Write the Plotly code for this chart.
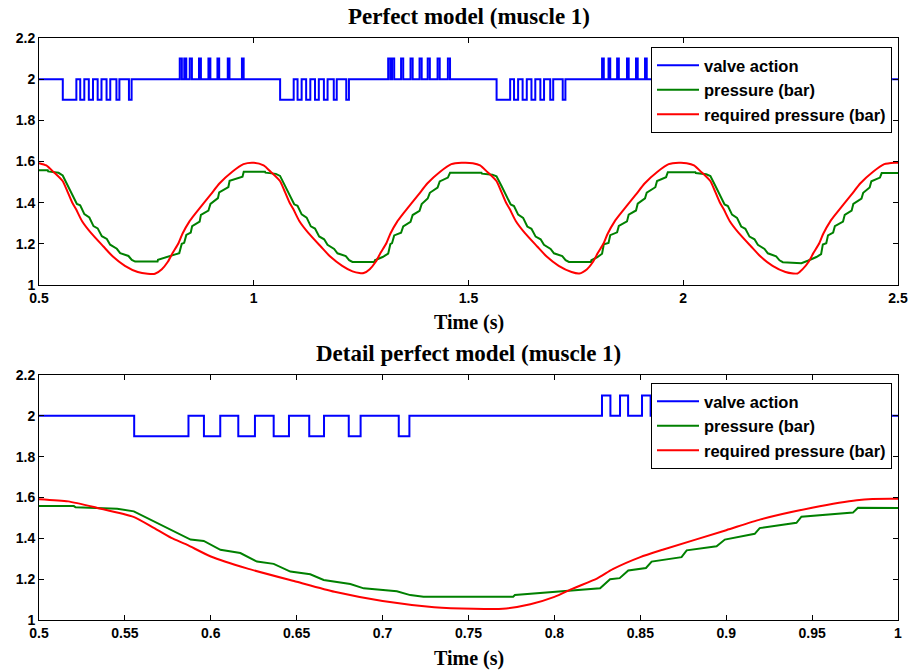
import plotly.graph_objects as go

# ---------------- data ----------------
# valve action: intervals at 1.9 (low) and 2.1 (high); otherwise 2.0
valve_low = [
    [0.5554, 0.587], [0.596, 0.6055], [0.616, 0.6257], [0.6366, 0.6455], [0.6573, 0.6659], [0.6803, 0.6872], [0.7094, 0.7156],
    [1.0614, 1.093], [1.102, 1.1115], [1.122, 1.1317], [1.1426, 1.1515], [1.1633, 1.1719], [1.1863, 1.1932], [1.2154, 1.2216],
    [1.5654, 1.597], [1.606, 1.6155], [1.626, 1.6357], [1.6466, 1.6555], [1.6673, 1.6759], [1.6903, 1.6972], [1.7194, 1.7256],
    [2.0634, 2.095], [2.104, 2.1135], [2.124, 2.1337], [2.1446, 2.1535], [2.1653, 2.1739], [2.1883, 2.1952], [2.2174, 2.2236],
]
valve_high = [
    [0.8277, 0.8326], [0.8382, 0.8429], [0.851, 0.856], [0.8725, 0.877], [0.8945, 0.899], [0.9155, 0.9195], [0.9395, 0.9435], [0.9725, 0.9765],
    [1.313, 1.318], [1.322, 1.327], [1.343, 1.348], [1.365, 1.370], [1.386, 1.391], [1.405, 1.410], [1.428, 1.433], [1.452, 1.457],
    [1.811, 1.815], [1.826, 1.830], [1.846, 1.850], [1.869, 1.873], [1.890, 1.894], [1.911, 1.915], [1.935, 1.939], [1.960, 1.964],
    [2.321, 2.325], [2.333, 2.337], [2.349, 2.353], [2.372, 2.376], [2.392, 2.396], [2.415, 2.419], [2.434, 2.438], [2.458, 2.462],
]
valve_levels = {"neutral": 2.0, "low": 1.9, "high": 2.1}
t_start, t_end = 0.5, 2.5

pressure_t = [
    0.500, 0.5203, 0.5213, 0.5455, 0.5552, 0.5669, 0.5785, 0.5882, 0.5959, 0.6056, 0.6172, 0.6269, 0.6366, 0.6463, 0.6579,
    0.6657, 0.6812, 0.689, 0.7083, 0.7161, 0.7238, 0.776, 0.777, 0.803, 0.8266, 0.8324, 0.838, 0.843, 0.8533, 0.8566,
    0.874, 0.877, 0.8944, 0.8992, 0.9166, 0.9195, 0.9409, 0.9438, 0.9738, 0.9767,
    1.0263, 1.0273, 1.0515, 1.0612, 1.0729, 1.0845, 1.0942, 1.1019, 1.1116, 1.1232, 1.1329, 1.1426, 1.1523, 1.1639, 1.1717,
    1.1872, 1.195, 1.2143, 1.2221, 1.2298,
    1.281, 1.282, 1.300, 1.313, 1.318, 1.322, 1.327, 1.343, 1.348, 1.365, 1.370, 1.386, 1.391, 1.405, 1.410, 1.428, 1.433,
    1.452, 1.457,
    1.5303, 1.5313, 1.5555, 1.5652, 1.5769, 1.5885, 1.5982, 1.6059, 1.6156, 1.6272, 1.6369, 1.6466, 1.6563, 1.6679, 1.6757,
    1.6912, 1.699, 1.7183, 1.7261, 1.7338,
    1.785, 1.786, 1.800, 1.811, 1.815, 1.826, 1.830, 1.846, 1.850, 1.869, 1.873, 1.890, 1.894, 1.911, 1.915, 1.935, 1.939,
    1.960, 1.964,
    2.0283, 2.0293, 2.0535, 2.0632, 2.0749, 2.0865, 2.0962, 2.1039, 2.1136, 2.1252, 2.1349, 2.1446, 2.1543, 2.1659, 2.1737,
    2.1892, 2.197, 2.2163, 2.2241, 2.2318,
    2.262, 2.275, 2.290, 2.310, 2.321, 2.325, 2.333, 2.337, 2.349, 2.353, 2.372, 2.376, 2.392, 2.396, 2.415, 2.419, 2.434,
    2.438, 2.458, 2.462, 2.500,
]
pressure_bar = [
    1.558, 1.558, 1.552, 1.545, 1.532, 1.484, 1.435, 1.394, 1.387, 1.344, 1.328, 1.286, 1.275, 1.237, 1.224,
    1.196, 1.176, 1.155, 1.141, 1.122, 1.114, 1.114, 1.122, 1.138, 1.155, 1.200, 1.205, 1.243, 1.255, 1.286,
    1.308, 1.341, 1.361, 1.394, 1.422, 1.450, 1.476, 1.506, 1.526, 1.550,
    1.550, 1.546, 1.540, 1.530, 1.482, 1.433, 1.392, 1.385, 1.343, 1.327, 1.285, 1.274, 1.236, 1.222, 1.195,
    1.175, 1.154, 1.140, 1.121, 1.112,
    1.112, 1.120, 1.136, 1.152, 1.198, 1.203, 1.241, 1.254, 1.285, 1.307, 1.340, 1.360, 1.393, 1.420, 1.448, 1.473, 1.503,
    1.522, 1.545,
    1.545, 1.541, 1.536, 1.528, 1.481, 1.432, 1.391, 1.384, 1.342, 1.326, 1.284, 1.273, 1.235, 1.222, 1.195,
    1.175, 1.154, 1.140, 1.121, 1.112,
    1.112, 1.120, 1.135, 1.152, 1.198, 1.204, 1.242, 1.256, 1.287, 1.309, 1.342, 1.362, 1.395, 1.421, 1.449, 1.475, 1.505,
    1.524, 1.548,
    1.548, 1.544, 1.538, 1.529, 1.481, 1.432, 1.391, 1.384, 1.342, 1.326, 1.284, 1.273, 1.235, 1.222, 1.195,
    1.175, 1.154, 1.139, 1.120, 1.111,
    1.108, 1.106, 1.118, 1.136, 1.150, 1.197, 1.203, 1.241, 1.255, 1.286, 1.308, 1.341, 1.361, 1.394, 1.420, 1.448, 1.474,
    1.504, 1.522, 1.544, 1.544,
]

required_t = [
    0.500, 0.517, 0.534, 0.555, 0.566, 0.577, 0.586, 0.600, 0.621, 0.650, 0.672, 0.700, 0.730, 0.753, 0.770,
    0.786, 0.800, 0.811, 0.825, 0.834, 0.850, 0.863, 0.900, 0.920, 0.950, 0.976, 1.000,
    1.023, 1.040, 1.061, 1.072, 1.083, 1.092, 1.106, 1.127, 1.156, 1.178, 1.206, 1.230, 1.246, 1.256,
    1.270, 1.284, 1.295, 1.309, 1.318, 1.334, 1.347, 1.384, 1.404, 1.434, 1.460, 1.484,
    1.510, 1.527, 1.544, 1.565, 1.576, 1.587, 1.596, 1.610, 1.631, 1.660, 1.682, 1.710, 1.740, 1.758,
    1.776, 1.790, 1.801, 1.815, 1.824, 1.840, 1.853, 1.890, 1.910, 1.940, 1.966, 1.990,
    2.008, 2.025, 2.042, 2.063, 2.074, 2.085, 2.094, 2.108, 2.129, 2.158, 2.180, 2.208, 2.238, 2.256, 2.266,
    2.278, 2.292, 2.303, 2.317, 2.326, 2.342, 2.355, 2.392, 2.412, 2.442, 2.468, 2.492, 2.500,
]
required_bar = [
    1.592, 1.581, 1.549, 1.505, 1.455, 1.402, 1.369, 1.311, 1.253, 1.187, 1.138, 1.093, 1.063, 1.055, 1.055,
    1.077, 1.113, 1.155, 1.204, 1.249, 1.308, 1.344, 1.440, 1.493, 1.550, 1.587, 1.594,
    1.581, 1.549, 1.505, 1.455, 1.402, 1.369, 1.311, 1.253, 1.187, 1.138, 1.093, 1.066, 1.058, 1.058,
    1.077, 1.113, 1.155, 1.204, 1.249, 1.308, 1.344, 1.440, 1.493, 1.550, 1.587, 1.594,
    1.592, 1.581, 1.549, 1.505, 1.455, 1.402, 1.369, 1.311, 1.253, 1.187, 1.138, 1.093, 1.063, 1.056,
    1.077, 1.113, 1.155, 1.204, 1.249, 1.308, 1.344, 1.440, 1.493, 1.550, 1.587, 1.594,
    1.592, 1.581, 1.549, 1.505, 1.455, 1.402, 1.369, 1.311, 1.253, 1.187, 1.138, 1.093, 1.063, 1.056, 1.056,
    1.077, 1.113, 1.155, 1.204, 1.249, 1.308, 1.344, 1.440, 1.493, 1.550, 1.587, 1.594, 1.594,
]

y_ticks = [1, 1.2, 1.4, 1.6, 1.8, 2, 2.2]
top_x_ticks = [0.5, 1, 1.5, 2, 2.5]
detail_x_ticks = [0.5, 0.55, 0.6, 0.65, 0.7, 0.75, 0.8, 0.85, 0.9, 0.95, 1]

# build valve step series from intervals
events = sorted([(a, b, valve_levels["low"]) for a, b in valve_low] +
                [(a, b, valve_levels["high"]) for a, b in valve_high])
valve_t = [t_start]
valve_v = [valve_levels["neutral"]]
for a, b, lvl in events:
    valve_t += [a, b]
    valve_v += [lvl, valve_levels["neutral"]]
valve_t.append(t_end)
valve_v.append(valve_levels["neutral"])

# ---------------- figure ----------------
BLUE, GREEN, RED = "#0000ff", "#008000", "#ff0000"
SANS = "Liberation Sans, Arial, sans-serif"
SERIF = "Liberation Serif, Times New Roman, serif"
tick_font = dict(family=SANS, size=14, color="black", weight="bold")
title_font = dict(family=SERIF, size=23, color="black", weight="bold")
xtitle_font = dict(family=SERIF, size=20, color="black", weight="bold")
legend_font = dict(family=SANS, size=16.5, color="black", weight="bold")

fig = go.Figure()
for ax, leg in (("", "legend"), ("2", "legend2")):
    fig.add_trace(go.Scatter(x=valve_t, y=valve_v, mode="lines", line=dict(color=BLUE, width=2, shape="hv"),
                             name="valve action", xaxis="x" + ax, yaxis="y" + ax, legend=leg))
    fig.add_trace(go.Scatter(x=pressure_t, y=pressure_bar, mode="lines", line=dict(color=GREEN, width=2),
                             name="pressure (bar)", xaxis="x" + ax, yaxis="y" + ax, legend=leg))
    fig.add_trace(go.Scatter(x=required_t, y=required_bar, mode="lines",
                             line=dict(color=RED, width=2, shape="spline", smoothing=0.6),
                             name="required pressure (bar)", xaxis="x" + ax, yaxis="y" + ax, legend=leg))

axis_common = dict(showline=True, linecolor="black", linewidth=1, mirror="ticks", ticks="inside",
                   ticklen=5, tickcolor="black", showgrid=False, zeroline=False, tickfont=tick_font,
                   automargin=False)

M_L, M_R, M_T, M_B = 39, 14, 38, 50
W, H = 912, 670
plot_h = H - M_T - M_B


def py(pix):
    """pixel row (from top of figure) -> paper y"""
    return (H - M_B - pix) / plot_h


legend_common = dict(xanchor="right", yanchor="top", bgcolor="white", bordercolor="black", borderwidth=1,
                     font=legend_font, tracegroupgap=0, itemwidth=42)

fig.update_layout(
    width=W, height=H,
    margin=dict(l=M_L, r=M_R, t=M_T, b=M_B),
    paper_bgcolor="white", plot_bgcolor="white",
    xaxis=dict(domain=[0, 1], range=[0.5, 2.5], tickvals=top_x_ticks, anchor="y", **axis_common),
    yaxis=dict(domain=[py(285), 1], range=[1, 2.2], tickvals=y_ticks, anchor="x", **axis_common),
    xaxis2=dict(domain=[0, 1], range=[0.5, 1.0], tickvals=detail_x_ticks, anchor="y2", **axis_common),
    yaxis2=dict(domain=[0, py(375)], range=[1, 2.2], tickvals=y_ticks, anchor="x2", **axis_common),
    legend=dict(x=(892 - M_L) / (W - M_L - M_R), y=py(47), **legend_common),
    legend2=dict(x=(892 - M_L) / (W - M_L - M_R), y=py(383), **legend_common),
    annotations=[
        dict(text="Perfect model (muscle 1)", x=0.5, y=py(17), xref="paper", yref="paper", showarrow=False,
             font=title_font, xanchor="center", yanchor="middle"),
        dict(text="Detail perfect model (muscle 1)", x=0.5, y=py(353), xref="paper", yref="paper", showarrow=False,
             font=title_font, xanchor="center", yanchor="middle"),
        dict(text="Time (s)", x=0.5, y=py(322), xref="paper", yref="paper", showarrow=False,
             font=xtitle_font, xanchor="center", yanchor="middle"),
        dict(text="Time (s)", x=0.5, y=py(658), xref="paper", yref="paper", showarrow=False,
             font=xtitle_font, xanchor="center", yanchor="middle"),
    ],
)

fig.write_html("out.html", config={"displayModeBar": False},
               post_script="document.body.style.margin='0px';")
